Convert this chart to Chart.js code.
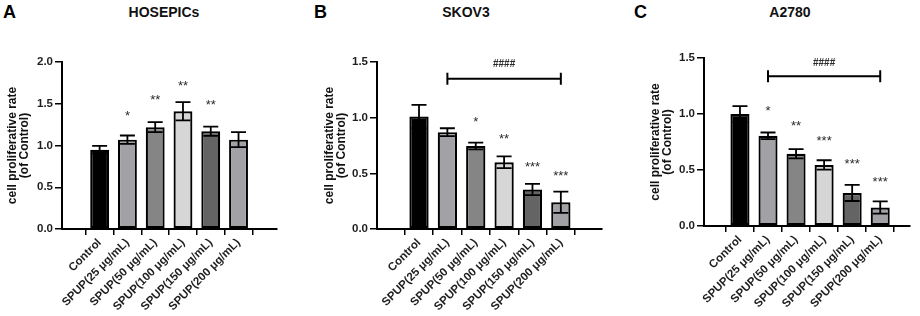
<!DOCTYPE html>
<html>
<head>
<meta charset="utf-8">
<script src="https://cdn.jsdelivr.net/npm/chart.js@4.4.0/dist/chart.umd.min.js"></script>
<style>
  body{ margin:0; background:#fff; width:920px; height:316px; overflow:hidden; position:relative; font-family:'Liberation Sans', Arial, sans-serif; }
  .panel{ position:absolute; top:0; height:316px; }
  .letter{ position:absolute; top:3px; font:bold 18px/18px 'Liberation Sans', Arial, sans-serif; color:#000; }
  .title{ position:absolute; top:4px; font:bold 14px/16px 'Liberation Sans', Arial, sans-serif; color:#111; transform:translateX(-50%); white-space:nowrap; }
</style>
</head>
<body>
  <div class="letter" style="left:3px">A</div>
  <div class="letter" style="left:314px">B</div>
  <div class="letter" style="left:634px">C</div>
  <div class="title" style="left:164px">HOSEPICs</div>
  <div class="title" style="left:466px">SKOV3</div>
  <div class="title" style="left:790px">A2780</div>

  <div class="panel" style="left:0;width:300px"><canvas id="chartA" width="300" height="316"></canvas></div>
  <div class="panel" style="left:300px;width:310px"><canvas id="chartB" width="310" height="316"></canvas></div>
  <div class="panel" style="left:610px;width:310px"><canvas id="chartC" width="310" height="316"></canvas></div>

<script>
// ---- data ----
const categories = ['Control', 'SPUP(25 μg/mL)', 'SPUP(50 μg/mL)', 'SPUP(100 μg/mL)', 'SPUP(150 μg/mL)', 'SPUP(200 μg/mL)'];

const hoseMeans  = [0.95, 1.07, 1.22, 1.41, 1.17, 1.07];
const hoseErrors = [0.045, 0.05, 0.06, 0.11, 0.055, 0.09];
const hoseStars  = ['', '*', '**', '**', '**', ''];
const hoseStarLevels = [0, 1.39, 1.58, 1.75, 1.52, 0];
const hoseTicks  = [0, 0.5, 1.0, 1.5, 2.0];

const skovMeans  = [1.01, 0.87, 0.745, 0.60, 0.355, 0.24];
const skovErrors = [0.105, 0.035, 0.03, 0.053, 0.05, 0.095];
const skovStars  = ['', '', '*', '**', '***', '***'];
const skovStarLevels = [0, 0, 0.99, 0.84, 0.59, 0.51];
const skovTicks  = [0, 0.5, 1.0, 1.5];
const skovBracket = 1.35;
const skovHashLevel = 1.49;

const a2780Means  = [1.0, 0.805, 0.645, 0.545, 0.295, 0.165];
const a2780Errors = [0.07, 0.03, 0.042, 0.042, 0.072, 0.055];
const a2780Stars  = ['', '*', '**', '***', '***', '***'];
const a2780StarLevels = [0, 1.06, 0.92, 0.79, 0.58, 0.42];
const a2780Ticks  = [0, 0.5, 1.0, 1.5];
const a2780Bracket = 1.337;
const a2780HashLevel = 1.46;

const hashLabel = '####';
const barColors = ['#000000', '#a2a1a6', '#858585', '#d6d6d6', '#646464', '#a2a1a6'];

const FONT = "'Liberation Sans', Arial, sans-serif";

// error bars, stars and the #### bracket, all placed through the chart scales
function annotations(p){
  return {
    id: 'annot',
    afterDatasetsDraw(chart){
      const { ctx, scales:{ x, y } } = chart;
      ctx.save();
      ctx.strokeStyle = '#000';
      ctx.lineWidth = 1.8;
      p.means.forEach((m, i) => {
        const px  = x.getPixelForValue(i);
        const top = y.getPixelForValue(m + p.errors[i]);
        const bot = y.getPixelForValue(m - p.errors[i]);
        ctx.beginPath();
        ctx.moveTo(px, top); ctx.lineTo(px, bot);
        ctx.moveTo(px - 7.5, top); ctx.lineTo(px + 7.5, top);
        ctx.moveTo(px - 7.5, bot); ctx.lineTo(px + 7.5, bot);
        ctx.stroke();
      });

      ctx.fillStyle = '#2a2a2a';
      ctx.textAlign = 'center';
      ctx.textBaseline = 'alphabetic';
      ctx.font = `13px ${FONT}`;
      p.stars.forEach((s, i) => {
        if (!s) return;
        ctx.fillText(s, x.getPixelForValue(i), y.getPixelForValue(p.starLevels[i]) + 13 * 0.57);
      });

      if (p.bracket != null){
        const x1 = x.getPixelForValue(1), x2 = x.getPixelForValue(5);
        const by = y.getPixelForValue(p.bracket);
        ctx.lineWidth = 2;
        ctx.beginPath();
        ctx.moveTo(x1, by); ctx.lineTo(x2, by);
        ctx.moveTo(x1, by - 6); ctx.lineTo(x1, by + 6);
        ctx.moveTo(x2, by - 6); ctx.lineTo(x2, by + 6);
        ctx.stroke();
        ctx.font = `bold 10px ${FONT}`;
        ctx.fillText(hashLabel, (x1 + x2) / 2, y.getPixelForValue(p.hashLevel) + 10 * 0.35);
      }
      ctx.restore();
    }
  };
}

function makePanel(id, p){
  new Chart(document.getElementById(id), {
    type: 'bar',
    data: {
      datasets: [{
        data: p.means.map((v, i) => ({ x: i, y: v })),
        backgroundColor: barColors,
        borderColor: '#000',
        borderWidth: 2.2,
        borderSkipped: false,
        barPercentage: 0.68,
        categoryPercentage: 1
      }]
    },
    options: {
      responsive: false,
      animation: false,
      events: [],
      layout: { padding: { left: p.padL, right: p.padR, top: p.padT, bottom: 0 } },
      plugins: { legend: { display: false }, tooltip: { enabled: false } },
      scales: {
        x: {
          type: 'linear',
          min: p.xMin, max: p.xMax,
          afterBuildTicks: s => { s.ticks = categories.map((c, i) => ({ value: i })); },
          afterFit: s => { s.height = p.xH; },
          ticks: {
            autoSkip: false, minRotation: 45, maxRotation: 45, padding: 1,
            color: '#1e1e1e', font: { family: FONT, size: 11.5, weight: 'bold' },
            callback: v => categories[v]
          },
          grid: { drawOnChartArea: false, drawTicks: true, tickLength: 6, color: '#000', lineWidth: 1.5 },
          border: { color: '#000', width: 2 }
        },
        y: {
          min: 0, max: p.yTicks[p.yTicks.length - 1],
          afterBuildTicks: s => { s.ticks = p.yTicks.map(v => ({ value: v })); },
          afterFit: s => { s.width = p.yW; },
          ticks: {
            padding: 2, color: '#1e1e1e', font: { family: FONT, size: 11.5, weight: 'bold' },
            callback: v => v.toFixed(1)
          },
          grid: { drawOnChartArea: false, drawTicks: true, tickLength: 7, color: '#000', lineWidth: 1.5 },
          border: { color: '#000', width: 2 },
          title: {
            display: true, text: ['cell proliferative rate', '(of Control)'],
            color: '#111', font: { family: FONT, size: 12, weight: 'bold', lineHeight: 1.05 },
            padding: { top: 6, bottom: 0 }
          }
        }
      }
    },
    plugins: [annotations(p)]
  });
}

makePanel('chartA', {
  means: hoseMeans, errors: hoseErrors, stars: hoseStars, starLevels: hoseStarLevels, yTicks: hoseTicks,
  padL: 0, padR: 23, padT: 62, yW: 62, xH: 87, xMin: -0.71, xMax: 5.74
});
makePanel('chartB', {
  means: skovMeans, errors: skovErrors, stars: skovStars, starLevels: skovStarLevels, yTicks: skovTicks,
  bracket: skovBracket, hashLevel: skovHashLevel,
  padL: 17, padR: 8, padT: 62, yW: 60, xH: 87, xMin: -0.82, xMax: 5.79
});
makePanel('chartC', {
  means: a2780Means, errors: a2780Errors, stars: a2780Stars, starLevels: a2780StarLevels, yTicks: a2780Ticks,
  bracket: a2780Bracket, hashLevel: a2780HashLevel,
  padL: 33, padR: 10, padT: 58, yW: 61, xH: 90, xMin: -0.67, xMax: 5.45
});
</script>
</body>
</html>
